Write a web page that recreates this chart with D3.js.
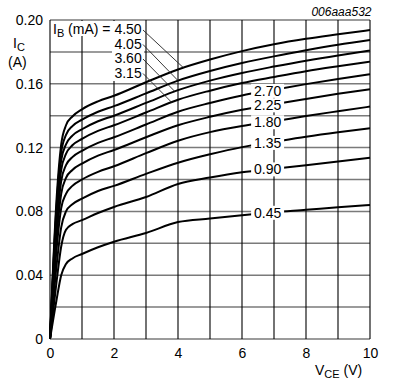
<!DOCTYPE html>
<html><head><meta charset="utf-8">
<script src="https://cdn.jsdelivr.net/npm/d3@7"></script>
<style>
body{margin:0;background:#fff}
svg{display:block}
text{font-family:"Liberation Sans",Arial,Helvetica,sans-serif;fill:#000}
</style>
</head><body>
<svg id="chart" width="396" height="387"></svg>
<script>
// ---- data ----
const vce = [0, 0.2, 0.35, 0.5, 0.7, 1, 1.5, 2, 3, 4, 5, 6, 7, 8, 9, 10];
const ic_045 = [0, 0.024, 0.040, 0.047, 0.0505, 0.0533, 0.0575, 0.061, 0.0665, 0.0733, 0.0755, 0.0776, 0.0795, 0.081, 0.0826, 0.084];
const ic_090 = [0, 0.035, 0.058, 0.0685, 0.072, 0.0745, 0.079, 0.0828, 0.089, 0.0972, 0.1012, 0.1045, 0.1068, 0.109, 0.1113, 0.1137];
const ic_135 = [0, 0.045, 0.070, 0.080, 0.0845, 0.088, 0.0928, 0.096, 0.1035, 0.1105, 0.1158, 0.1203, 0.1236, 0.1268, 0.1296, 0.1321];
const ic_180 = [0, 0.055, 0.082, 0.091, 0.096, 0.100, 0.1048, 0.1083, 0.1165, 0.1243, 0.1297, 0.1335, 0.1365, 0.1398, 0.1428, 0.1457];
const ic_225 = [0, 0.062, 0.091, 0.101, 0.106, 0.110, 0.115, 0.1185, 0.1265, 0.134, 0.1393, 0.1437, 0.1472, 0.1505, 0.1537, 0.1566];
const ic_270 = [0, 0.068, 0.099, 0.109, 0.114, 0.118, 0.123, 0.1265, 0.1345, 0.1425, 0.148, 0.1527, 0.1563, 0.1598, 0.163, 0.166];
const ic_315 = [0, 0.073, 0.106, 0.116, 0.1215, 0.1255, 0.1305, 0.134, 0.142, 0.150, 0.1557, 0.1605, 0.1643, 0.1679, 0.171, 0.1739];
const ic_360 = [0, 0.078, 0.112, 0.122, 0.1275, 0.1315, 0.1365, 0.140, 0.148, 0.156, 0.162, 0.1668, 0.1708, 0.1745, 0.1778, 0.1808];
const ic_405 = [0, 0.082, 0.117, 0.128, 0.1335, 0.1375, 0.1425, 0.146, 0.154, 0.162, 0.168, 0.173, 0.1772, 0.181, 0.1845, 0.1875];
const ic_450 = [0, 0.086, 0.122, 0.134, 0.1395, 0.144, 0.149, 0.1525, 0.161, 0.169, 0.1752, 0.1805, 0.1848, 0.1882, 0.191, 0.1937];

const ibLabels = ["0.45", "0.90", "1.35", "1.80", "2.25", "2.70", "3.15", "3.60", "4.05", "4.50"];
const icSeries = [ic_045, ic_090, ic_135, ic_180, ic_225, ic_270, ic_315, ic_360, ic_405, ic_450];

// labels placed on curves at this V (right group) / leader targets (left group)
const rightLabelV = 6.8;
const leftLabelNames = ["4.50", "4.05", "3.60", "3.15"];
const leftLeaderV = [4.17, 4.0, 3.9, 3.8];

const xTicks = [0, 2, 4, 6, 8, 10];
const xTickLabels = ["0", "2", "4", "6", "8", "10"];
const yTicks = [0, 0.04, 0.08, 0.12, 0.16, 0.20];
const yTickLabels = ["0", "0.04", "0.08", "0.12", "0.16", "0.20"];
const xGrid = [0, 1, 2, 3, 4, 5, 6, 7, 8, 9, 10];
const yGrid = [0, 0.02, 0.04, 0.06, 0.08, 0.10, 0.12, 0.14, 0.16, 0.18, 0.20];

// ---- drawing ----
const svg = d3.select("#chart");
const x = d3.scaleLinear().domain([0, 10]).range([50, 370]);
const y = d3.scaleLinear().domain([0, 0.2]).range([339, 20]);

const g = svg.append("g");

// grid
g.selectAll("line.hg").data(yGrid).enter().append("line")
  .attr("x1", x(0)).attr("x2", x(10))
  .attr("y1", d => y(d)).attr("y2", d => y(d))
  .attr("stroke", "#7a7a7a").attr("stroke-width", 1.5);
g.selectAll("line.vg").data(xGrid).enter().append("line")
  .attr("x1", d => x(d)).attr("x2", d => x(d))
  .attr("y1", y(0)).attr("y2", y(0.2))
  .attr("stroke", "#000").attr("stroke-width", 1.1);

// curves
const line = d3.line().x((d, i) => x(vce[i])).y(d => y(d)).curve(d3.curveMonotoneX);
g.selectAll("path.curve").data(icSeries).enter().append("path")
  .attr("d", d => line(d))
  .attr("fill", "none").attr("stroke", "#000").attr("stroke-width", 2)
  .attr("stroke-linejoin", "round");

function icAt(series, v) {
  return d3.scaleLinear().domain(vce).range(series)(v);
}

// right-hand labels on curves 0.45 .. 2.70
const rl = g.append("g");
ibLabels.forEach((lab, i) => {
  if (i > 5) return;
  const cx = x(rightLabelV), cy = y(icAt(icSeries[i], rightLabelV));
  rl.append("rect").attr("x", cx - 16.5).attr("y", cy - 7).attr("width", 33).attr("height", 14).attr("fill", "#fff");
  rl.append("text").attr("x", cx).attr("y", cy).attr("dy", "0.36em")
    .attr("text-anchor", "middle").attr("font-size", 14).text(lab);
});

// left-top labels with leader lines
const ll = g.append("g");
ll.append("rect").attr("x", 51).attr("y", 21).attr("width", 93).attr("height", 15).attr("fill", "#fff");
ll.append("rect").attr("x", 112).attr("y", 21).attr("width", 32).attr("height", 60).attr("fill", "#fff");
const labelY = [34, 48.5, 63, 77.5];
leftLabelNames.forEach((lab, k) => {
  const idx = ibLabels.indexOf(lab);
  const tx = x(leftLeaderV[k]), ty = y(icAt(icSeries[idx], leftLeaderV[k]));
  ll.append("line").attr("x1", 143).attr("y1", labelY[k] - 4).attr("x2", tx).attr("y2", ty)
    .attr("stroke", "#222").attr("stroke-width", 0.9);
  if (k === 0) {
    const t = ll.append("text").attr("x", 53).attr("y", labelY[k]).attr("font-size", 14);
    t.append("tspan").text("I");
    t.append("tspan").attr("font-size", 11).attr("dy", 3).text("B");
    t.append("tspan").attr("dy", -3).text(" (mA) = " + lab);
  } else {
    ll.append("text").attr("x", 141.7).attr("y", labelY[k]).attr("text-anchor", "end")
      .attr("font-size", 14).text(lab);
  }
});

// axes (labels only)
const xAxis = d3.axisBottom(x).tickValues(xTicks).tickFormat((d, i) => xTickLabels[i]).tickSize(0).tickPadding(9);
const yAxis = d3.axisLeft(y).tickValues(yTicks).tickFormat((d, i) => yTickLabels[i]).tickSize(0).tickPadding(7);
const gx = svg.append("g").attr("transform", `translate(0,${y(0)})`).call(xAxis);
const gy = svg.append("g").attr("transform", `translate(${x(0)},0)`).call(yAxis);
[gx, gy].forEach(a => {
  a.select(".domain").remove();
  a.selectAll("text").attr("font-size", 14).attr("fill", "#000")
    .attr("font-family", '"Liberation Sans",Arial,Helvetica,sans-serif');
});

// axis titles
const ty1 = svg.append("text").attr("x", 13).attr("y", 48).attr("font-size", 14);
ty1.append("tspan").text("I");
ty1.append("tspan").attr("font-size", 11).attr("dy", 3).text("C");
svg.append("text").attr("x", 8).attr("y", 67).attr("font-size", 14).text("(A)");

const tx1 = svg.append("text").attr("x", 315).attr("y", 375).attr("font-size", 14);
tx1.append("tspan").text("V");
tx1.append("tspan").attr("font-size", 11).attr("dy", 3).text("CE");
tx1.append("tspan").attr("dy", -3).text(" (V)");

svg.append("text").attr("x", 371.5).attr("y", 15.5).attr("text-anchor", "end")
  .attr("font-size", 12).attr("font-style", "italic").text("006aaa532");
</script>
</body></html>
